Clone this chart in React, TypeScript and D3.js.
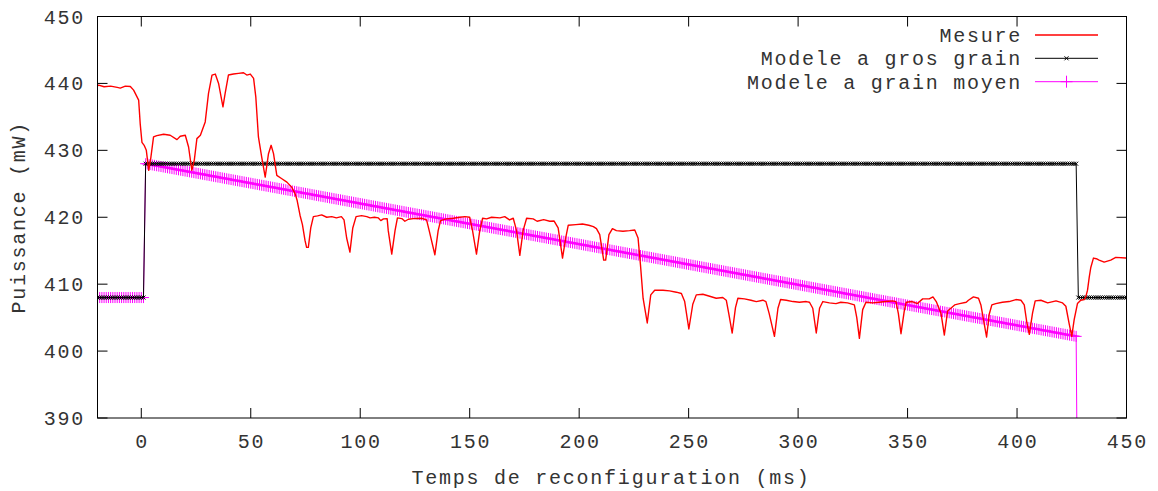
import React from "react";
import * as d3 from "d3";

// ---- data ----
const xTicks = [0, 50, 100, 150, 200, 250, 300, 350, 400, 450];
const yTicks = [390, 400, 410, 420, 430, 440, 450];

const seriesNames = ["Mesure", "Modele a gros grain", "Modele a grain moyen"];

// Mesure (measured), [ms, mW]
const mesureT = [
  -20, -19.5, -17, -14, -11, -9.6, -7.3, -5, -3.5, -1.2, -0.5, 0.3, 1.4, 2.3, 3.4, 4.4, 5.6, 7.1, 10.2, 13.2,
  16.3, 17.8, 20.1, 21.6, 23.1, 24.2, 25.4, 27, 29.2, 30.7, 32.3, 33.8, 35.3, 37.3, 38.3, 39.8, 42.1, 44.4, 46.7, 48.2,
  49.8, 51.3, 52.3, 53.5, 55, 56.6, 58.1, 59.3, 60.4, 61.9, 64.2, 66.5, 68.7, 70.3, 71.2, 72.5, 73.6, 74.8, 75.5, 76.3,
  77.4, 78.6, 80.5, 82.4, 84.7, 87, 89.1, 91.4, 92.6, 93.8, 95.3, 96.6, 98.1, 100.6, 103, 104.5, 106.5, 108.3, 109.4, 110.6,
  112.3, 112.8, 114.4, 115.9, 117, 119, 120.4, 122, 124.3, 128, 130.3, 131.5, 134.1, 135.6, 136.7, 139.4, 142.5, 145.5, 147.8, 150,
  151.3, 153.1, 154.6, 155.9, 157.7, 160, 163.8, 166, 168.2, 169.9, 171.4, 172.9, 174.4, 176, 179, 180.8, 183.8, 186.6, 188.5, 190.4,
  192.4, 193.9, 195, 198.5, 201.5, 204.4, 206.5, 207.9, 209.4, 211.2, 212.1, 213.6, 215.2, 217, 220, 223, 225.4, 226.9, 228, 229.2,
  231.1, 232.7, 234.5, 238.3, 241.3, 244.4, 246.7, 248.2, 250.1, 251.9, 253.5, 256.5, 259.6, 262.6, 265.6, 267.2, 268.4, 269.9, 271.4, 272.5,
  275.5, 278.5, 280.9, 283.9, 285.3, 286.8, 289.2, 290.8, 292, 294.6, 297.7, 300.6, 303.7, 305.2, 306.7, 308.3, 309.8, 311.3, 314.3, 317.3,
  319.5, 322.6, 325.7, 326.8, 328, 329.5, 331, 334, 337, 340.1, 343.2, 344.7, 345.8, 347, 348.5, 349.4, 352.1, 354.5, 356.9, 359.9,
  361.6, 363.1, 365.3, 366.8, 368.3, 371.5, 373.8, 376.8, 377.8, 380.1, 382.4, 383.5, 385, 386.1, 387.3, 388.5, 390.3, 393.3, 396.4, 399.5,
  401.8, 403.3, 404.5, 405.6, 407.1, 408.3, 410.9, 414, 417.8, 420.8, 422.3, 423.8, 425, 426.1, 427.6, 429.1, 430.7, 431.4, 432.2, 433,
  433.7, 434.9, 436.2, 437.5, 439.8, 442.8, 445.1, 449.7, 450,
];
const mesureV = [
  439.6, 439.75, 439.5, 439.6, 439.4, 439.3, 439.6, 439.55, 439.0, 437.5, 434, 431.2, 430.7, 430.0, 427.0, 429, 432, 432.2, 432.4, 432.25,
  431.6, 432.1, 432.25, 430.5, 427, 428.5, 431.75, 432.25, 434.25, 438.5, 441.25, 441.4, 440, 436.5, 438.5, 441.25, 441.4, 441.5, 441.6, 441.25,
  441.4, 440.75, 438, 432, 429, 426, 429.5, 430.75, 429.5, 426.25, 425.75, 425.25, 424.5, 423.5, 422.5, 420.3, 418.9, 416.5, 415.5, 415.5,
  418.4, 420.1, 420.2, 420.35, 420.0, 420.1, 419.9, 420.1, 419.6, 416.9, 414.8, 418.4, 420.1, 420.25, 420.1, 419.9, 420.0, 419.9, 419.5, 419.75,
  419.8, 418.0, 414.5, 418.0, 419.9, 419.8, 419.4, 419.7, 419.8, 419.85, 419.6, 418.0, 414.4, 418.0, 419.5, 419.75, 419.85, 420.0, 420.1, 420.0,
  418.0, 414.5, 418.0, 419.85, 419.75, 420.0, 419.9, 420.1, 419.6, 419.85, 418.0, 414.3, 418.0, 419.85, 419.75, 419.4, 419.65, 419.4, 419.45, 418.4,
  413.9, 417.0, 418.8, 418.9, 419.0, 418.8, 418.6, 418.3, 417.4, 413.6, 413.6, 417.4, 418.3, 418.0, 417.9, 418.0, 418.1, 416.9, 412.9, 407.9,
  404.2, 408.4, 409.1, 409.1, 409.0, 408.8, 408.6, 407.4, 403.3, 407.0, 408.4, 408.5, 408.2, 407.9, 408.0, 407.6, 405.5, 402.7, 406.5, 407.9,
  407.8, 407.6, 407.4, 407.6, 407.4, 405.6, 402.2, 406.4, 407.7, 407.6, 407.4, 407.3, 407.4, 407.3, 406.4, 402.7, 406.4, 407.4, 407.2, 407.1,
  407.3, 407.2, 406.9, 405.0, 401.9, 406.2, 407.3, 407.2, 407.3, 407.4, 407.5, 407.4, 405.6, 402.6, 406.0, 407.3, 407.4, 407.1, 407.8, 407.8,
  408.1, 407.4, 405.6, 402.4, 406.0, 406.9, 407.1, 407.3, 407.6, 408.1, 407.9, 406.9, 404.1, 402.1, 405.5, 406.9, 407.1, 407.3, 407.4, 407.7,
  407.6, 406.9, 404.2, 402.5, 405.7, 407.5, 407.6, 407.2, 407.5, 407.2, 406.7, 404.1, 402.2, 404.7, 407.1, 407.6, 407.7, 408.1, 409.1, 411.1,
  412.5, 413.9, 413.8, 413.6, 413.3, 413.6, 414.0, 413.9, 413.9,
];

// Model breakpoints (models are piecewise linear, one marker per ms)
const grosT = [-20, 1, 2, 427, 428, 450];
const grosV = [408, 408, 428, 428, 408, 408];
const moyenT = [-20, 1, 2, 427, 428];
const moyenV = [408, 408, 428, 402.2, 360];
const modelStep = 1;

// ---- helpers ----
function sampleModel(ts: number[], vs: number[], step: number) {
  const pts: [number, number][] = [];
  for (let i = 0; i < ts.length - 1; i++) {
    const t0 = ts[i], t1 = ts[i + 1];
    const s = d3.scaleLinear().domain([t0, t1]).range([vs[i], vs[i + 1]]);
    for (let t = t0; t < t1 - 1e-9; t += step) pts.push([t, s(t)]);
  }
  pts.push([ts[ts.length - 1], vs[vs.length - 1]]);
  return pts;
}

const W = 1158, H = 491;
const L = 97.5, R = 1126.5, T = 16.5, B = 418;
const FONT = "'Liberation Mono', 'DejaVu Sans Mono', monospace";
const FS = 20;
const LS = 1.75;
const TXT = "#333";

export default function App() {
  const x = d3.scaleLinear().domain([-20, 450]).range([L, R]);
  const y = d3.scaleLinear().domain([390, 450]).range([B, T]);
  const line = d3.line<[number, number]>().x(d => x(d[0])).y(d => y(d[1]));

  const mesure: [number, number][] = mesureT.map((t, i) => [t, mesureV[i]]);
  const gros = sampleModel(grosT, grosV, modelStep);
  const moyen = sampleModel(moyenT, moyenV, modelStep);

  const xMark = (cx: number, cy: number, s: number) =>
    `M${cx - s},${cy - s}L${cx + s},${cy + s}M${cx - s},${cy + s}L${cx + s},${cy - s}`;
  const plusMark = (cx: number, cy: number, s: number) =>
    `M${cx - s},${cy}H${cx + s}M${cx},${cy - s}V${cy + s}`;

  const grosMarks = gros.map(d => xMark(x(d[0]), y(d[1]), 2)).join("");
  const moyenMarks = moyen.filter(d => d[1] >= 390).map(d => plusMark(x(d[0]), y(d[1]), 5.5)).join("");

  const legendX0 = 1035, legendX1 = 1098, legendTextX = 1022;
  const legendY = [35, 58.3, 81.7];

  return (
    <svg width={W} height={H} style={{ position: "absolute", left: 0, top: 0, background: "#fff" }}>
      <defs>
        <clipPath id="plot">
          <rect x={L} y={T} width={R - L} height={B - T} />
        </clipPath>
      </defs>
      <rect x={0} y={0} width={W} height={H} fill="#fff" />

      {/* ticks (inward, mirrored) */}
      <g stroke="#000" strokeWidth={1}>
        {yTicks.map(v => (
          <g key={"yt" + v}>
            <line x1={L} x2={L + 10} y1={y(v)} y2={y(v)} />
            <line x1={R} x2={R - 10} y1={y(v)} y2={y(v)} />
          </g>
        ))}
        {xTicks.map(v => (
          <g key={"xt" + v}>
            <line x1={x(v)} x2={x(v)} y1={B} y2={B - 10} />
            <line x1={x(v)} x2={x(v)} y1={T} y2={T + 10} />
          </g>
        ))}
      </g>

      {/* tick labels */}
      <g fontFamily={FONT} fontSize={FS} fill={TXT} style={{ letterSpacing: LS }}>
        {yTicks.map(v => (
          <text key={"yl" + v} x={85} y={y(v)} dy="0.35em" textAnchor="end">{v}</text>
        ))}
        {xTicks.map(v => (
          <text key={"xl" + v} x={x(v) + LS / 2} y={441} dy="0.35em" textAnchor="middle">{v}</text>
        ))}
        <text x={(L + R) / 2 - 1} y={477} dy="0.35em" textAnchor="middle">Temps de reconfiguration (ms)</text>
        <text transform={`translate(18,${(T + B) / 2}) rotate(-90)`} dy="0.35em" textAnchor="middle">Puissance (mW)</text>
      </g>

      {/* series */}
      <g clipPath="url(#plot)">
        <path d={line(moyen) || ""} fill="none" stroke="#ff00ff" strokeWidth={1} />
        <path d={moyenMarks} fill="none" stroke="#ff00ff" strokeWidth={1} />
        <path d={line(gros) || ""} fill="none" stroke="#000" strokeWidth={1} />
        <path d={grosMarks} fill="none" stroke="#000" strokeWidth={1} />
        <path d={line(mesure) || ""} fill="none" stroke="#ff0000" strokeWidth={1.4} strokeLinejoin="round" />
      </g>

      {/* frame */}
      <rect x={L} y={T} width={R - L} height={B - T} fill="none" stroke="#000" strokeWidth={1} />

      {/* legend */}
      <g fontFamily={FONT} fontSize={FS} fill={TXT} style={{ letterSpacing: LS }}>
        {seriesNames.map((n, i) => (
          <text key={n} x={legendTextX} y={legendY[i]} dy="0.35em" textAnchor="end">{n}</text>
        ))}
      </g>
      <line x1={legendX0} x2={legendX1} y1={legendY[0]} y2={legendY[0]} stroke="#ff0000" strokeWidth={1.4} />
      <line x1={legendX0} x2={legendX1} y1={legendY[1]} y2={legendY[1]} stroke="#000" strokeWidth={1} />
      <path d={xMark((legendX0 + legendX1) / 2, legendY[1], 2)} stroke="#000" strokeWidth={1} fill="none" />
      <line x1={legendX0} x2={legendX1} y1={legendY[2]} y2={legendY[2]} stroke="#ff00ff" strokeWidth={1} />
      <path d={plusMark((legendX0 + legendX1) / 2, legendY[2], 6)} stroke="#ff00ff" strokeWidth={1} fill="none" />
    </svg>
  );
}
